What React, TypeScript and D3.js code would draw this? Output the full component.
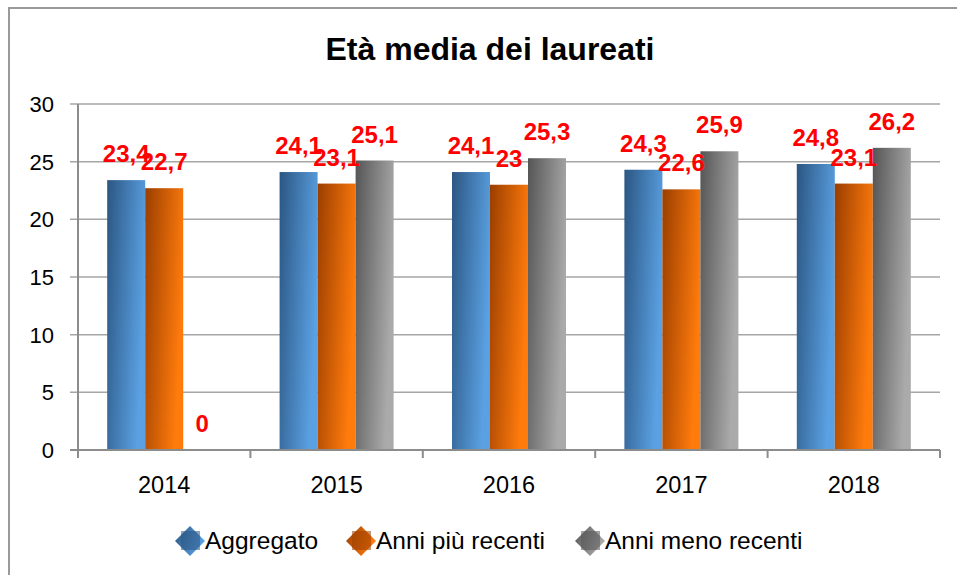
import * as d3 from "d3";

// values
const years = ["2014", "2015", "2016", "2017", "2018"];
const aggregato = [23.4, 24.1, 24.1, 24.3, 24.8];
const anniPiuRecenti = [22.7, 23.1, 23, 22.6, 23.1];
const anniMenoRecenti = [0, 25.1, 25.3, 25.9, 26.2];
const seriesNames = ["Aggregato", "Anni più recenti", "Anni meno recenti"];
const yTicks = [0, 5, 10, 15, 20, 25, 30];

const W = 957;
const H = 575;
const FONT = "'Liberation Sans', Arial, sans-serif";

// gradient stops per series: dark (top-left) -> light (bottom-right)
const gradients = [
  ["#2b5682", "#5aa0e2"],
  ["#9a3e00", "#ff7b0c"],
  ["#555555", "#aaaaaa"],
];

const itFormat = d3.formatLocale({
  decimal: ",",
  thousands: ".",
  grouping: [3],
  currency: ["€", ""],
}).format("~r");

const App = () => {
  const seriesData = [aggregato, anniPiuRecenti, anniMenoRecenti];

  const x = d3.scaleBand<string>().domain(years).range([78, 940]).padding(0);
  const inner = d3
    .scaleBand<number>()
    .domain([0, 1, 2])
    .range([0, x.bandwidth()])
    .paddingInner(0)
    .paddingOuter(0.768);
  const y = d3.scaleLinear().domain([0, 30]).range([450, 104]);

  const bars = years.flatMap((yr, i) =>
    seriesData.map((s, k) => ({ yr, k, v: s[i] }))
  );

  const legendX = [190, 361, 590];

  return (
    <div style={{ position: "absolute", left: 0, top: 0 }}>
      <svg width={W} height={H} style={{ display: "block", background: "#fff" }}>
        <defs>
          {gradients.map((g, k) => (
            <linearGradient key={k} id={`g${k}`} x1="0" y1="0" x2="1" y2="0.35">
              <stop offset="0" stopColor={g[0]} />
              <stop offset="1" stopColor={g[1]} />
            </linearGradient>
          ))}
        </defs>

        {/* chart frame */}
        <rect x={9} y={8} width={W + 10} height={H + 10} fill="none" stroke="#9a9a9a" strokeWidth={2} />

        <text x={490} y={60} textAnchor="middle" fontFamily={FONT} fontWeight="bold" fontSize={32} fill="#000">
          Età media dei laureati
        </text>

        {/* gridlines + y axis labels */}
        {yTicks.map((t) => (
          <g key={t}>
            {t > 0 && (
              <line x1={70} x2={940} y1={y(t)} y2={y(t)} stroke="#a6a6a6" strokeWidth={1.5} />
            )}
            <text x={54} y={y(t)} dy="0.36em" textAnchor="end" fontFamily={FONT} fontSize={22} fill="#000">
              {t}
            </text>
          </g>
        ))}
        <line x1={78} x2={78} y1={y(30)} y2={y(0)} stroke="#8c8c8c" strokeWidth={2} />

        {/* bars */}
        {bars.map((b) => (
          <rect
            key={`${b.yr}-${b.k}`}
            x={x(b.yr)! + inner(b.k)!}
            y={y(b.v)}
            width={inner.bandwidth()}
            height={y(0) - y(b.v)}
            fill={`url(#g${b.k})`}
          />
        ))}

        {/* x axis */}
        <line x1={70} x2={940} y1={y(0)} y2={y(0)} stroke="#8c8c8c" strokeWidth={2} />
        {[...years.map((yr) => x(yr)!), 940].map((px, i) => (
          <line key={i} x1={px} x2={px} y1={y(0)} y2={y(0) + 8} stroke="#8c8c8c" strokeWidth={2} />
        ))}
        {years.map((yr) => (
          <text
            key={yr}
            x={x(yr)! + x.bandwidth() / 2}
            y={493}
            textAnchor="middle"
            fontFamily={FONT}
            fontSize={23.5}
            fill="#000"
          >
            {yr}
          </text>
        ))}

        {/* data labels */}
        {bars.map((b) => (
          <text
            key={`l-${b.yr}-${b.k}`}
            x={x(b.yr)! + inner(b.k)! + inner.bandwidth() / 2}
            y={y(b.v) - 18}
            textAnchor="middle"
            fontFamily={FONT}
            fontWeight="bold"
            fontSize={24}
            fill="#ff0000"
          >
            {itFormat(b.v)}
          </text>
        ))}

        {/* legend */}
        {seriesNames.map((name, k) => {
          const cx = legendX[k];
          const cy = 541;
          const r = 15;
          return (
            <g key={name}>
              <path
                d={`M${cx},${cy - r}L${cx + r},${cy}L${cx},${cy + r}L${cx - r},${cy}Z`}
                fill={`url(#g${k})`}
              />
              <rect x={cx - 9} y={cy - 10} width={19} height={19} fill={gradients[k][0]} opacity={0.55} />
              <text x={cx + 15} y={549} fontFamily={FONT} fontSize={24.5} fill="#000">
                {name}
              </text>
            </g>
          );
        })}
      </svg>
    </div>
  );
};

export default App;
